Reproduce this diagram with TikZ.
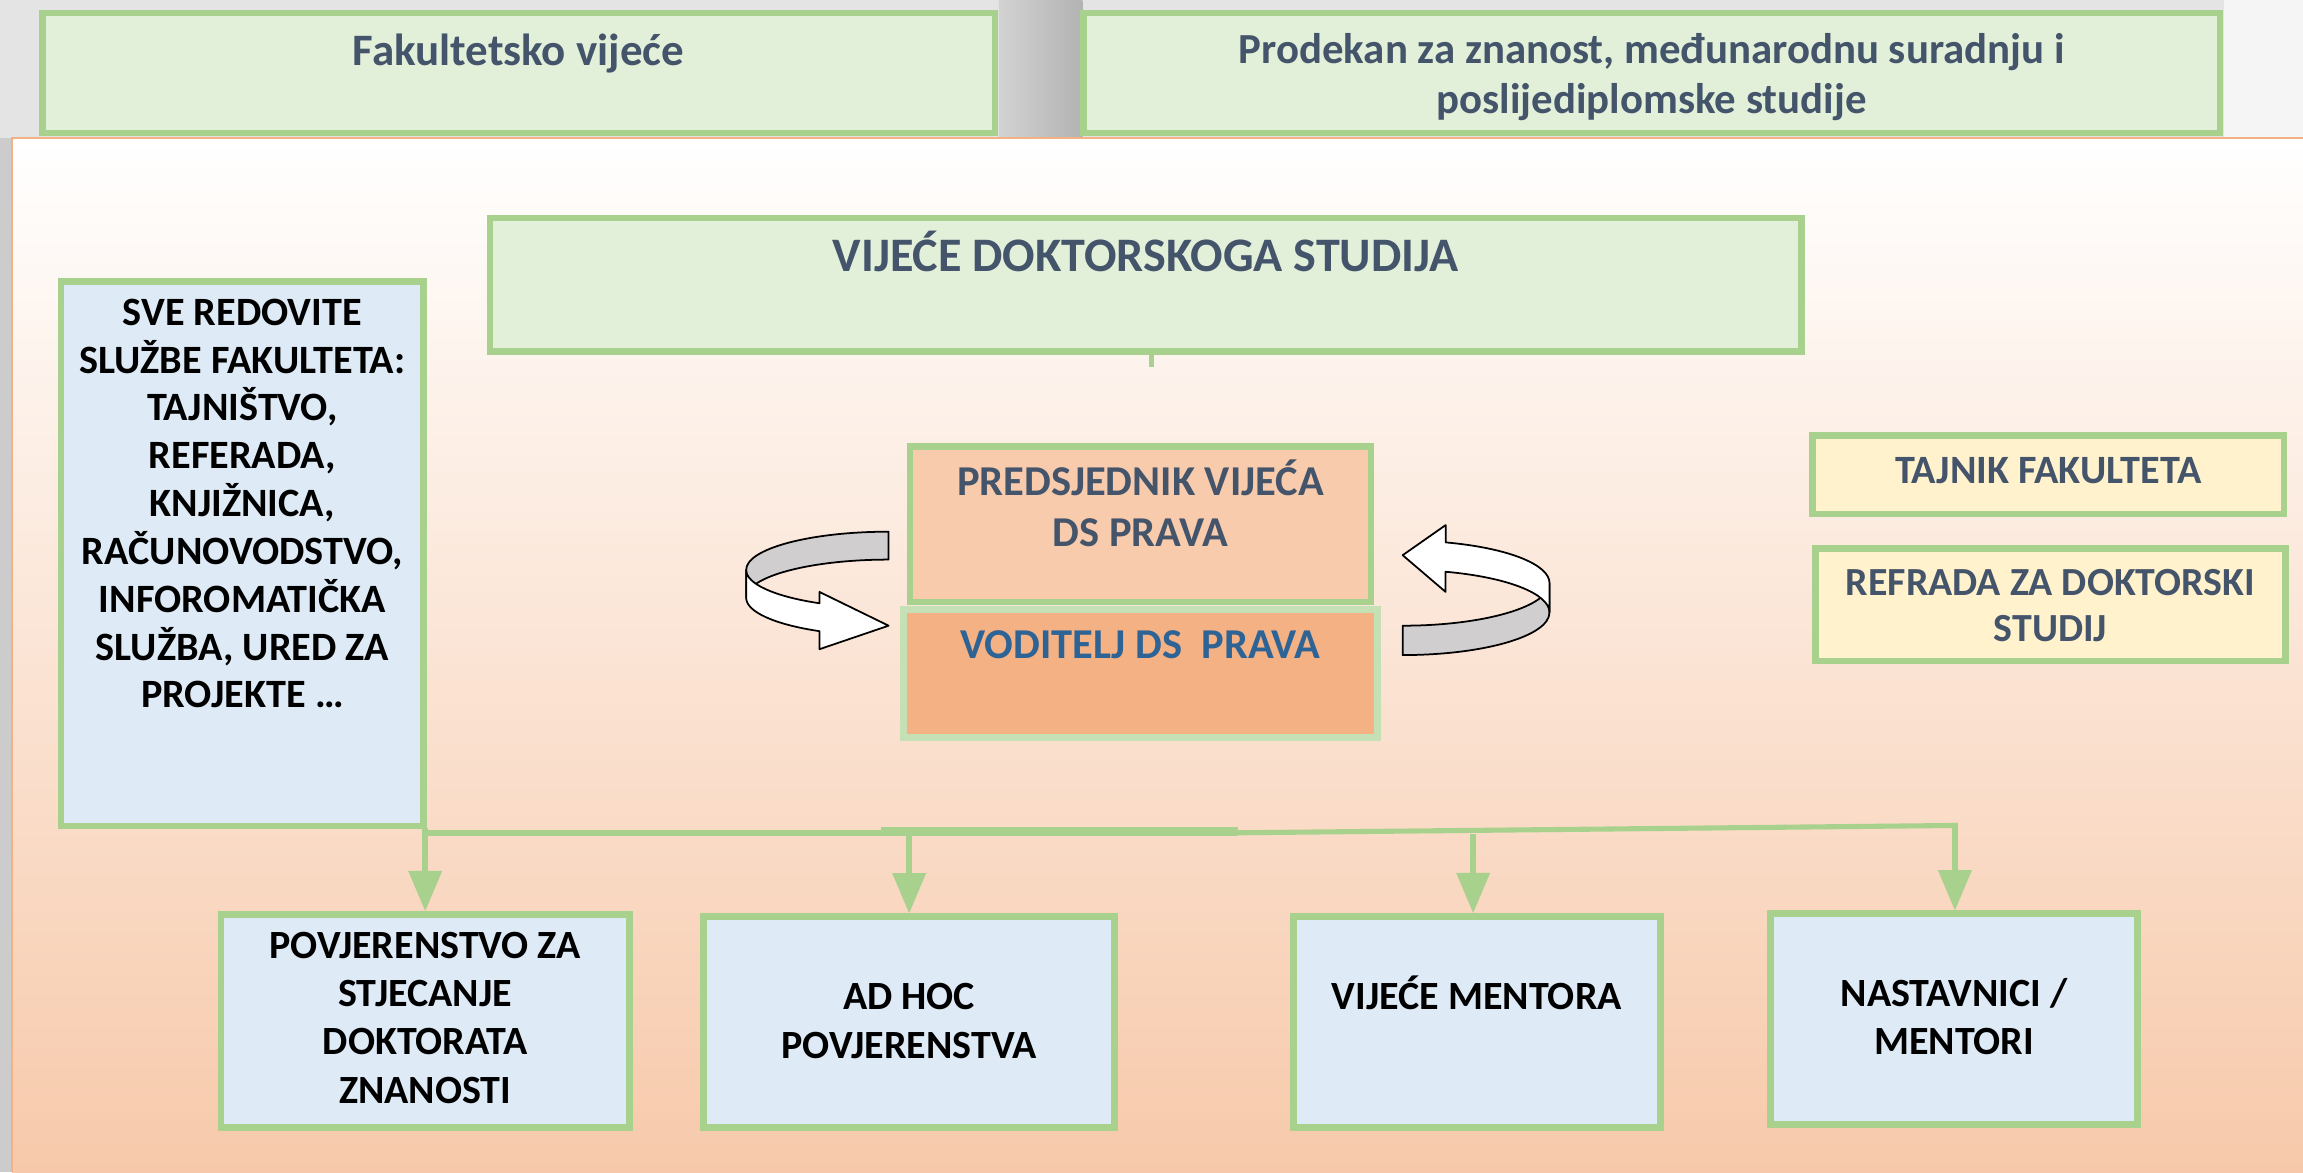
\documentclass[tikz,border=0pt]{standalone}
\usepackage{fontspec}
\setmainfont{Carlito}
\usepackage{tikz}
\usetikzlibrary{fit}
\usetikzlibrary{arrows}
\definecolor{edgegreen}{HTML}{A9D18E}
\definecolor{palegreen}{HTML}{C5E0B4}
\definecolor{fillgreen}{HTML}{E2F0D9}
\definecolor{fillblue}{HTML}{DEEBF7}
\definecolor{fillyellow}{HTML}{FFF2CC}
\definecolor{fillpeach}{HTML}{F8CBAD}
\definecolor{fillorange}{HTML}{F4B183}
\definecolor{slate}{HTML}{44546A}
\definecolor{deepblue}{HTML}{2E6396}
\definecolor{panelline}{HTML}{F4B183}
\definecolor{panelbottom}{HTML}{F7C9AA}
\definecolor{photogrey}{HTML}{E4E4E4}
\definecolor{ribbongrey}{HTML}{D0CECE}
\tikzstyle{box} = [rectangle,draw=edgegreen,line width=1.88pt,inner sep=0pt]
\tikzstyle{greenbox} = [box,fill=fillgreen]
\tikzstyle{bluebox} = [box,fill=fillblue]
\tikzstyle{yellowbox} = [box,fill=fillyellow]
\tikzstyle{boxtext} = [align=center,inner sep=0pt,anchor=base,
font=\bfseries\fontsize{11.4}{13.7}\selectfont]
\tikzstyle{headtext} = [boxtext,text=slate]
\tikzstyle{bus} = [draw=edgegreen,line width=1.67pt]
\tikzstyle{flow} = [bus,->,>={triangle 45}]
\tikzstyle{ribbonback} = [fill=ribbongrey,draw=black,line width=0.5pt,line join=round]
\tikzstyle{ribbonfront} = [ribbonback,fill=white]
\newcommand{\drop}[2]{ %
  % straight down from a point of the bus onto the top of a box
  \path (#1) edge [flow] (#1 |- #2.north) ;%
}

\begin{document}
\begin{tikzpicture}[x=0.0146875cm,y=-0.0146875cm]
  \useasboundingbox (0,0) rectangle (1568,798);
  % backdrop
  \fill[photogrey] (0,0) rectangle (1568,94);
  \shade[left color=gray!35,right color=gray!60] (680,0) rectangle (737,94);
  \fill[gray!8] (1514,0) rectangle (1568,94);
  \fill[gray!40] (0,94) rectangle (8,798);
  \shade[top color=white,bottom color=panelbottom] (8,94) rectangle (1568,798);
  \draw[panelline,line width=0.7pt] (1568,94) -- (8,94) -- (8,798);

  \node[greenbox,fit={(29,8.8) (677.5,90.6)}](fv) {};
  \node[greenbox,fit={(737.5,8.8) (1511.5,90.6)}](pro) {};
  \node[greenbox,fit={(333.5,148.5) (1226.5,239.5)}](vds) {};
  \node[bluebox,fit={(41.5,191.5) (288.5,562.5)}](sve) {};
  \node[box,fill=fillpeach,fit={(619.5,304) (933.5,410)}](pred) {};
  \node[box,draw=palegreen,fill=fillorange,fit={(615,415) (938,502)}](vod) {};
  \node[yellowbox,fit={(1234,296.5) (1555,350)}](taj) {};
  \node[yellowbox,fit={(1236,373.5) (1556,450)}](ref) {};
  \node[bluebox,fit={(150.5,622.5) (428.5,767.5)}](povj) {};
  \node[bluebox,fit={(479,624) (759,767.5)}](adhoc) {};
  \node[bluebox,fit={(880.5,623.8) (1130.5,767.5)}](vm) {};
  \node[bluebox,fit={(1205.5,622) (1455.5,765.5)}](nast) {};

  % texts sit on the baseline of their last line
  \node[headtext,font=\bfseries\fontsize{12.8}{14.25}\selectfont](fv-t) at (353,44.3) {Fakultetsko vijeće};
  \node[headtext,font=\bfseries\fontsize{12.2}{14.25}\selectfont](pro-t) at (1124.5,77.2)
    {Prodekan za znanost, međunarodnu suradnju i\\poslijediplomske studije};
  \node[headtext,font=\bfseries\fontsize{13.7}{16}\selectfont](vds-t) at (780,185) {VIJEĆE DOKTORSKOGA STUDIJA};
  \node[boxtext,font=\bfseries\fontsize{11.45}{13.62}\selectfont](sve-t) at (165,482)
    {SVE REDOVITE\\SLUŽBE FAKULTETA:\\TAJNIŠTVO,\\REFERADA,\\KNJIŽNICA,\\RAČUNOVODSTVO,\\INFOROMATIČKA\\SLUŽBA, URED ZA\\PROJEKTE …};
  \node[headtext,font=\bfseries\fontsize{12.1}{14.7}\selectfont](pred-t) at (776.5,372.2) {PREDSJEDNIK VIJEĆA\\DS PRAVA};
  \node[boxtext,text=deepblue,font=\bfseries\fontsize{12.1}{14.7}\selectfont](vod-t) at (776.5,448.1) {VODITELJ DS~~PRAVA};
  \node[headtext,font=\bfseries\fontsize{11.45}{13.1}\selectfont](taj-t) at (1394.5,329) {TAJNIK FAKULTETA};
  \node[headtext,font=\bfseries\fontsize{11.35}{13.1}\selectfont](ref-t) at (1396,436.8) {REFRADA ZA DOKTORSKI\\STUDIJ};
  \node[boxtext](povj-t) at (289.5,751) {POVJERENSTVO ZA\\STJECANJE\\DOKTORATA\\ZNANOSTI};
  \node[boxtext](adhoc-t) at (619,720.4) {AD HOC\\POVJERENSTVA};
  \node[boxtext](vm-t) at (1005.5,687.5) {VIJEĆE MENTORA};
  \node[boxtext](nast-t) at (1330.5,718.2) {NASTAVNICI /\\MENTORI};

  % bus to the lower boxes
  \coordinate (b0) at (287.5,567);
  \coordinate (b1) at (600,565);
  \coordinate (bm) at (843,567);
  \coordinate (bn) at (843,565);
  \coordinate (b2) at (1333,562);
  \coordinate (j1) at (289.5,564);
  \coordinate (j2) at (619,563);
  \coordinate (j3) at (1003,568);
  \coordinate (j4) at (1331,560);
  \coordinate (vt) at (784,250);
  \draw[bus] (b0) -- (bm);
  \draw[bus] (b1) -- (bn);
  \draw[bus,line width=1.45pt] (bm) -- (b2);
  \draw[bus,line width=1.2pt] (vds.south -| vt) -- (vt);
  \drop{j1}{povj}
  \drop{j2}{adhoc}
  \drop{j3}{vm}
  \drop{j4}{nast}

  % turning arrows beside the two middle boxes
  \draw[ribbonback] (605,362) arc[start angle=90,end angle=180,x radius=1.4247cm,y radius=0.3819cm]
    -- ++(0,19) arc[start angle=180,end angle=90,x radius=1.4247cm,y radius=0.3819cm] -- cycle;
  \draw[ribbonfront] (508,388) arc[start angle=180,end angle=241,x radius=1.4247cm,y radius=0.3819cm]
    -- ++(0,-7.7) -- (605,426) -- (557.97,442) -- (557.97,429.74)
    arc[start angle=241,end angle=180,x radius=1.4247cm,y radius=0.3819cm] -- cycle;
  \draw[ribbonback] (955,426) arc[start angle=270,end angle=360,x radius=1.46875cm,y radius=0.4259cm]
    -- ++(0,20) arc[start angle=360,end angle=270,x radius=1.46875cm,y radius=0.4259cm] -- cycle;
  \draw[ribbonfront] (1055,397) arc[start angle=0,end angle=73,x radius=1.46875cm,y radius=0.4259cm]
    -- ++(0,-11.77) -- (955,378) -- (984.24,403) -- (984.24,389.27)
    arc[start angle=73,end angle=0,x radius=1.46875cm,y radius=0.4259cm] -- cycle;
\end{tikzpicture}
\end{document}
